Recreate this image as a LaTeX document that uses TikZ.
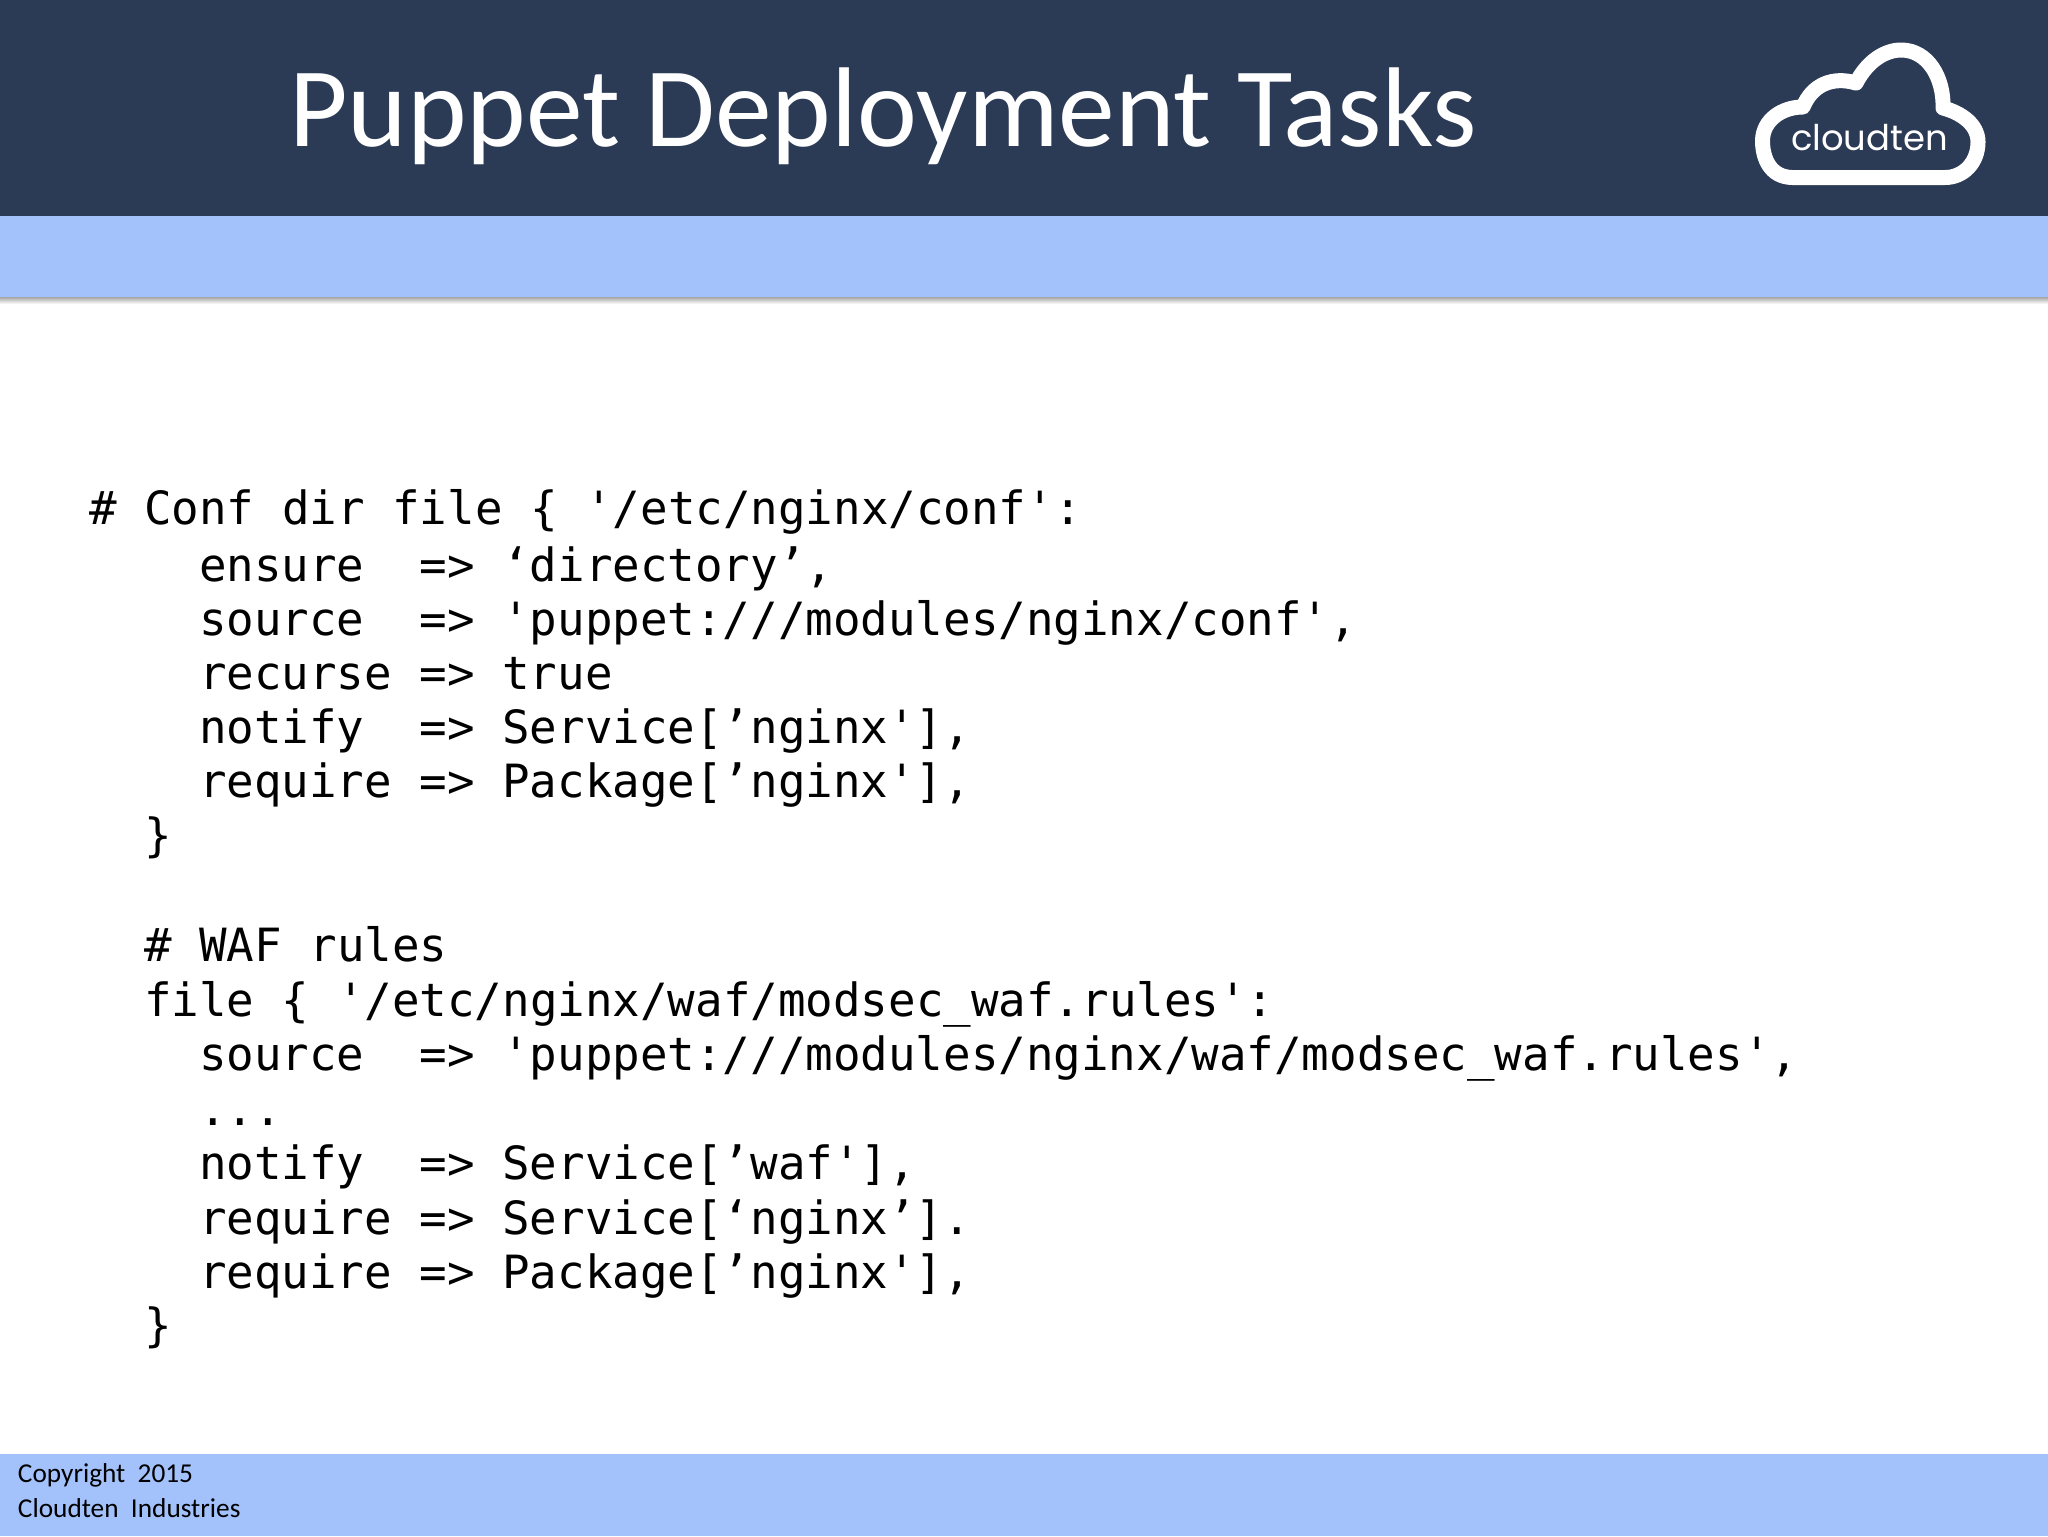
\documentclass[tikz,border=0pt]{standalone}
\usepackage{fontspec}
\setmainfont{Carlito}
\newfontfamily\codefont{DejaVu Sans Mono}
\newfontfamily\logofont{Poppins}
\definecolor{headnavy}{HTML}{2B3A55}
\definecolor{bandblue}{HTML}{A3C2FC}
\tikzset{
  every node/.style={inner sep=0pt,outer sep=0pt,anchor=base west},
  codeline/.style={font=\codefont\fontsize{22.9pt}{22.9pt}\selectfont,text=black},
  titletext/.style={font=\fontsize{56.7pt}{56.7pt}\selectfont,text=white},
  foottext/.style={font=\fontsize{13.65pt}{13.65pt}\selectfont,text=black},
  cloudline/.style={draw=white,line width=7.5pt,line join=round},
}
\begin{document}
\begin{tikzpicture}[x=0.5pt,y=-0.5pt]
\useasboundingbox (0,0) rectangle (2048,1536);
\fill[white] (0,0) rectangle (2048,1536);
\fill[bandblue] (0,216) rectangle (2048,297);
\shade[top color=black!35,bottom color=white] (0,297) rectangle (2048,304);
\fill[headnavy] (0,0) rectangle (2048,216);
\fill[bandblue] (0,1454) rectangle (2048,1536);
\node[titletext] (title) at (289,147) {Puppet Deployment Tasks};
% logo
\draw[cloudline] (1792,177.5)
  .. controls (1770,177) and (1762.5,158) .. (1762.5,141)
  .. controls (1762.5,120) and (1782,107) .. (1803,107)
  .. controls (1812,85) and (1832,76) .. (1856,83)
  .. controls (1868,60) and (1886,50) .. (1901,50)
  .. controls (1928,50) and (1944,78) .. (1943,108)
  .. controls (1962,113) and (1978,125) .. (1978,142)
  .. controls (1978,162) and (1964,177.5) .. (1945,177.5)
  -- cycle;
\node[font=\logofont\fontsize{17.7pt}{17.7pt}\selectfont,text=white] (logotext) at (1791,150) {cloudten};
% code
\node[codeline] (l1) at (89,524) {\#~Conf~dir~file~\{~'/etc/nginx/conf':};
\node[codeline] (l2) at (199,581) {ensure~~=>~‘directory’,};
\node[codeline] (l3) at (199,635) {source~~=>~'puppet:///modules/nginx/conf',};
\node[codeline] (l4) at (199,689) {recurse~=>~true};
\node[codeline] (l5) at (199,743) {notify~~=>~Service[’nginx'],};
\node[codeline] (l6) at (199,797) {require~=>~Package[’nginx'],};
\node[codeline] (l7) at (144,851) {\}};
\node[codeline] (l8) at (144,961) {\#~WAF~rules};
\node[codeline] (l9) at (144,1016) {file~\{~'/etc/nginx/waf/modsec\_waf.rules':};
\node[codeline] (l10) at (199,1070) {source~~=>~'puppet:///modules/nginx/waf/modsec\_waf.rules',};
\node[codeline] (l11) at (199,1125) {...};
\node[codeline] (l12) at (199,1179) {notify~~=>~Service[’waf'],};
\node[codeline] (l13) at (199,1234) {require~=>~Service[‘nginx’].};
\node[codeline] (l14) at (199,1288) {require~=>~Package[’nginx'],};
\node[codeline] (l15) at (144,1341) {\}};
% footer
\node[foottext] (f1) at (18,1482) {Copyright~~2015};
\node[foottext] (f2) at (18,1517) {Cloudten~~Industries};
\end{tikzpicture}
\end{document}
